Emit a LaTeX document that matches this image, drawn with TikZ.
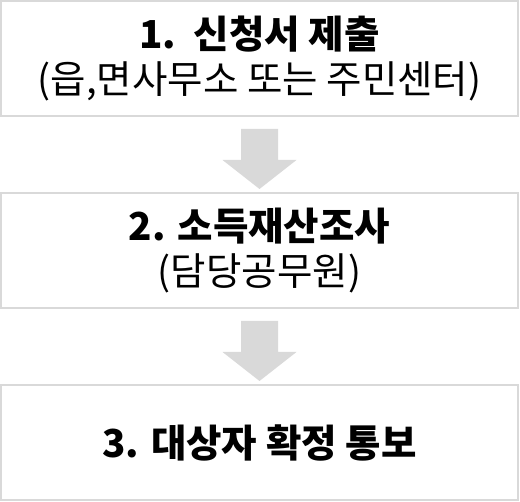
\documentclass[tikz,border=0pt]{standalone}
\usepackage{fontspec}
\setmainfont{Noto Sans CJK KR}
\usetikzlibrary{calc}
\definecolor{boxline}{HTML}{D9D9D9}
\definecolor{arrowgray}{HTML}{D9D9D9}
\tikzset{
  stepbox/.style={draw=boxline, line width=2pt, fill=white, minimum width=517pt, minimum height=115pt, inner sep=0pt, align=center, font=\fontsize{38.5}{45}\selectfont},
  blockarrow/.style={fill=arrowgray, draw=none}
}
\begin{document}
\begin{tikzpicture}[x=1pt,y=1pt]
\useasboundingbox (0,0) rectangle (520,-502);
\node[stepbox] (b1) at (259.5,-58.5) {\textbf{1.\ \ 신청서 제출}\\(읍,면사무소 또는 주민센터)};
\node[stepbox] (b2) at (259.5,-250.5) {\textbf{2. 소득재산조사}\\(담당공무원)};
\node[stepbox] (b3) at (259.5,-442.5) {\textbf{3. 대상자 확정 통보}};
\foreach \a/\b in {b1/b2,b2/b3}{
  \fill[blockarrow]
    ($(\a.south)+(-18.5,-12)$) -- ($(\a.south)+(18.5,-12)$) --
    ($(\a.south)+(18.5,-43)$) -- ($(\a.south)+(37,-43)$) --
    ($(\b.north)+(0,3)$) -- ($(\a.south)+(-37,-43)$) --
    ($(\a.south)+(-18.5,-43)$) -- cycle;
}
\end{tikzpicture}
\end{document}
